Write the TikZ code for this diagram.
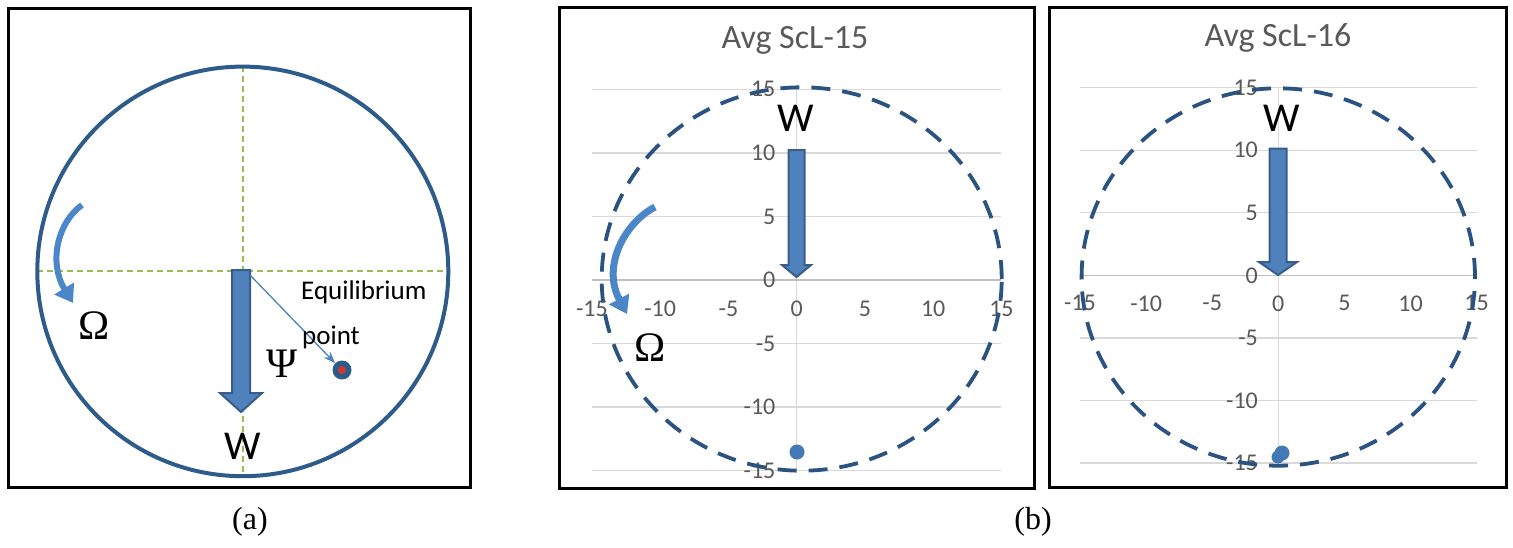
\documentclass[tikz,border=0pt]{standalone}
\usepackage{fontspec}
\setmainfont{Liberation Serif}
\newfontfamily\calib{Carlito}
\usetikzlibrary{arrows.meta}
\definecolor{ringblue}{HTML}{2E5C8A}
\definecolor{arrfill}{HTML}{4F81BD}
\definecolor{arrline}{HTML}{385D8A}
\definecolor{dashgreen}{HTML}{9BBB59}
\definecolor{chartblue}{HTML}{2B5382}
\definecolor{omegablue}{HTML}{4A86C8}
\definecolor{gridgray}{HTML}{D9D9D9}
\definecolor{axisgray}{HTML}{BFBFBF}
\definecolor{ticktext}{HTML}{595959}
\definecolor{eqred}{HTML}{D03A2E}
\tikzset{
  frame/.style={draw=black,line width=3pt},
  guide/.style={draw=dashgreen,line width=1.6pt,dash pattern=on 6pt off 4pt},
  warrow/.style={fill=arrfill,draw=arrline,line width=2pt,line join=miter},
  rotarrow/.style={draw=omegablue,line width=7pt,-{Triangle[length=17pt,width=22pt]}},
  orbit/.style={draw=chartblue,line width=3.8pt,dash pattern=on 19pt off 12pt},
  grid/.style={draw=gridgray,line width=1.4pt},
  axis/.style={draw=axisgray,line width=1.6pt},
  tick/.style={font=\calib\fontsize{24}{24}\selectfont,text=ticktext,inner sep=0pt},
  title/.style={font=\calib\fontsize{34}{34}\selectfont,text=ticktext,inner sep=0pt},
  wlabel/.style={font=\calib\fontsize{41}{41}\selectfont,inner sep=0pt},
  greek/.style={font=\fontsize{42}{42}\selectfont,inner sep=0pt},
  caption/.style={font=\fontsize{32}{32}\selectfont,inner sep=0pt},
  blob/.style={circle,fill=omegablue!90!black,inner sep=0pt,minimum size=15pt},
}
\begin{document}
\begin{tikzpicture}[x=1pt,y=-1pt]
\useasboundingbox (0,0) rectangle (1513,547);
\fill[white] (0,0) rectangle (1513,547);

% ---------------- panel (a) ----------------
\draw[frame] (8,8) rectangle (470,487);
\draw[guide] (243,66) -- (243,477);
\draw[guide] (37,271) -- (448,271);
\draw[draw=ringblue,line width=4pt] (242.8,271.4) circle[x radius=205.5pt,y radius=204.8pt];
\draw[warrow] (232,270) -- (250,270) -- (250,393) -- (262,393) -- (241,412) -- (220,393) -- (232,393) -- cycle;
\node[wlabel] (wa) at (243,446) {W};
\node[circle,fill=ringblue,inner sep=0pt,minimum size=19pt] (eq) at (342,370) {};
\node[circle,fill=eqred,inner sep=0pt,minimum size=8pt] (eqc) at (342,370) {};
\coordinate (psistart) at (250,275);
\draw[draw=arrfill,line width=1.3pt,-{Stealth[length=12pt,width=9pt]}] (psistart) -- (eq.north west);
\node[font=\calib\fontsize{27}{27}\selectfont,anchor=west,inner sep=0pt] (eqtxt) at (301,292) {Equilibrium};
\node[font=\calib\fontsize{27}{27}\selectfont,anchor=west,inner sep=0pt] (pttxt) at (302,337) {point};
\node[greek] (psi) at (282,364) {Ψ};
\node[greek] (oma) at (94,326) {Ω};
\draw[rotarrow,line width=6pt] (82,205) .. controls (58,222) and (48,262) .. (73,303);
\node[caption] (capa) at (250,522) {(a)};

% ---------------- panel (b) left ----------------
\draw[frame] (559,7) rectangle (1034,488);
\node[title] (t1) at (795,40) {Avg ScL-15};
\begin{scope}[shift={(796.7pt,-280pt)},x=13.65pt,y=12.71pt]
  \foreach \v in {-15,-10,-5,5,10,15} \draw[grid] (-15,\v) -- (15,\v);
  \draw[grid] (0,-15) -- (0,15);
  \draw[axis] (-15,0) -- (15,0);
  \foreach \v in {-15,-10,-5,0,5,10,15} \node[tick] at (\v,-2.3) {\v};
  \foreach \v in {-15,-10,-5,0,5,10,15} \node[tick,anchor=east] at (-1.55,\v) {\v};
\end{scope}
\draw[orbit] (801.7,279) circle[x radius=200pt,y radius=191.7pt];
\draw[warrow] (788.5,150) -- (804.5,150) -- (804.5,265) -- (811,265) -- (796.5,277) -- (782,265) -- (788.5,265) -- cycle;
\node[wlabel] (w1) at (796,118) {W};
\node[blob] (d1) at (797,452) {};
\node[greek] (om1) at (650,348) {Ω};
\draw[rotarrow] (655,207) .. controls (626,222) and (601,265) .. (627,314);

% ---------------- panel (b) right ----------------
\draw[frame] (1049,7) rectangle (1506,487);
\node[title] (t2) at (1278,38) {Avg ScL-16};
\begin{scope}[shift={(1278.3pt,-275.3pt)},x=13.22pt,y=12.51pt]
  \foreach \v in {-15,-10,-5,5,10,15} \draw[grid] (-15,\v) -- (15,\v);
  \draw[grid] (0,-15) -- (0,15);
  \draw[axis] (-15,0) -- (15,0);
  \foreach \v in {-15,-10,-5,0,5,10,15} \node[tick] at (\v,-2.24) {\v};
  \foreach \v in {-15,-10,-5,0,5,10,15} \node[tick,anchor=east] at (-1.53,\v) {\v};
\end{scope}
\draw[orbit] (1278.3,277) circle[x radius=196.7pt,y radius=188.7pt];
\draw[warrow] (1269.5,148.5) -- (1286.5,148.5) -- (1286.5,262) -- (1297,262) -- (1278,275) -- (1259,262) -- (1269.5,262) -- cycle;
\node[wlabel] (w2) at (1282,118) {W};
\node[blob] (d2) at (1282,453) {};
\node[blob,minimum size=13pt] (d2b) at (1278,457) {};

\node[caption] (capb) at (1033,522) {(b)};
\end{tikzpicture}
\end{document}
